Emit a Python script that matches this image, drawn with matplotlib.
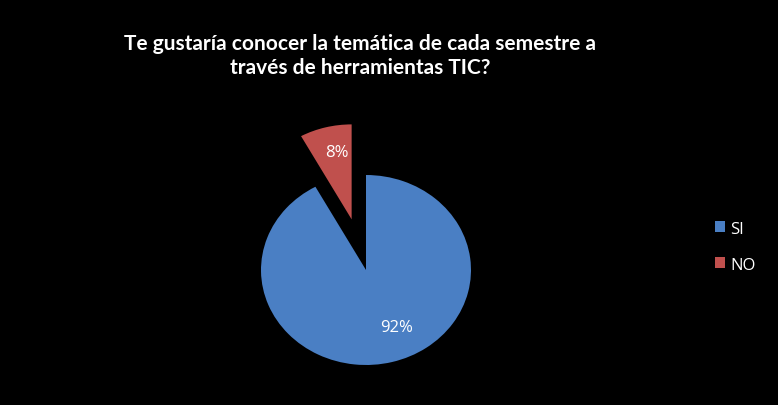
import matplotlib
matplotlib.use('Agg')
import matplotlib.pyplot as plt

labels = ['SI', 'NO']
values = [92, 8]
colors = ['#4A7FC4', '#C0504D']
title = 'Te gustaría conocer la temática de cada semestre a\ntravés de herramientas TIC?'

fig = plt.figure(figsize=(7.78, 4.06), dpi=100, facecolor='black')
W, H = 778, 406

# axes box chosen so the pie sits where it does in the reference
ax = fig.add_axes([198 / W, 2 / H, 336 / W, 285 / H])
ax.set_facecolor('black')
wedges, texts, autotexts = ax.pie(values, colors=colors, startangle=90, counterclock=False,
                                  explode=[0, 0.55], autopct='%1.0f%%', pctdistance=0.72,
                                  textprops={'color': 'white', 'fontsize': 12, 'family': 'Open Sans'})
ax.set_aspect('auto')
ax.set_xlim(-1.6, 1.6)
ax.set_ylim(-1.4, 1.6)
autotexts[0].set_position((0.29, -0.6))
autotexts[1].set_position((-0.28, 1.24))

fig.text(0.463, 0.862, title, color='white', fontsize=15, fontweight='bold', family='Lato',
         ha='center', va='center', linespacing=1.2)

leg = fig.legend(wedges, labels, loc='center left', bbox_to_anchor=(0.9, 0.39), frameon=False,
                 labelcolor='white', prop={'family': 'Open Sans', 'size': 12},
                 handlelength=0.6, handleheight=0.6, handletextpad=0.3, labelspacing=1.2)

fig.savefig('out.png', dpi=100, facecolor='black')
